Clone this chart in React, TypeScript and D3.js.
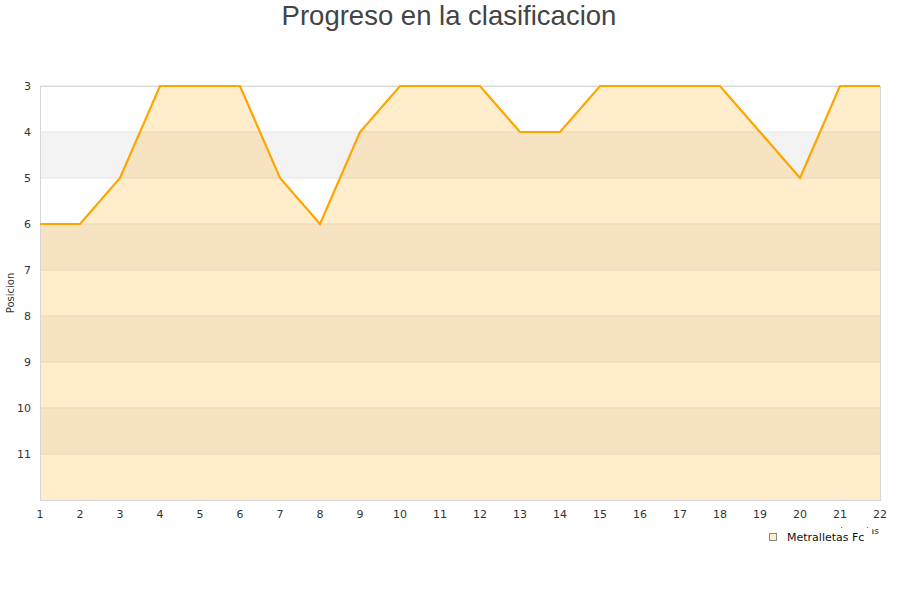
import React, { useRef, useEffect } from "react";
import * as d3 from "d3";

const title = "Progreso en la clasificacion";
const seriesName = "Metralletas Fc";
const xTitle = "Jornadas";
const yTitle = "Posicion";
const jornadas = [1, 2, 3, 4, 5, 6, 7, 8, 9, 10, 11, 12, 13, 14, 15, 16, 17, 18, 19, 20, 21, 22];
const posiciones = [6, 6, 5, 3, 3, 3, 5, 6, 4, 3, 3, 3, 4, 4, 3, 3, 3, 3, 4, 5, 3, 3];
const yTicks = [3, 4, 5, 6, 7, 8, 9, 10, 11];
const yDomain = [3, 12];

const App = () => {
  const svgRef = useRef<SVGSVGElement>(null);

  useEffect(() => {
    const width = 900;
    const height = 600;
    const margin = { top: 86, right: 20, bottom: 100, left: 40 };
    const font = "'DejaVu Sans', sans-serif";

    const svg = d3.select(svgRef.current).attr("width", width).attr("height", height);
    svg.selectAll("*").remove();

    const x = d3
      .scaleLinear()
      .domain([jornadas[0], jornadas[jornadas.length - 1]])
      .range([margin.left, width - margin.right]);
    const y = d3
      .scaleLinear()
      .domain(yDomain)
      .range([margin.top, height - margin.bottom]);

    // alternating bands
    svg
      .append("g")
      .selectAll("rect")
      .data(yTicks)
      .join("rect")
      .attr("x", x.range()[0])
      .attr("width", x.range()[1] - x.range()[0])
      .attr("y", (d) => y(d))
      .attr("height", (d) => y(d + 1) - y(d))
      .attr("fill", (d) => (d % 2 === 0 ? "#f3f3f3" : "#ffffff"));

    // grid lines
    svg
      .append("g")
      .selectAll("line")
      .data(yTicks)
      .join("line")
      .attr("x1", x.range()[0])
      .attr("x2", x.range()[1])
      .attr("y1", (d) => y(d))
      .attr("y2", (d) => y(d))
      .attr("stroke", "#e4e4e4")
      .attr("stroke-width", 1);

    const pts = jornadas.map((j, i) => [j, posiciones[i]] as [number, number]);

    const area = d3
      .area<[number, number]>()
      .x((d) => x(d[0]))
      .y0(y(yDomain[1]))
      .y1((d) => y(d[1]));
    svg.append("path").datum(pts).attr("d", area).attr("fill", "#ffa500").attr("fill-opacity", 0.2);

    // frame
    svg
      .append("rect")
      .attr("x", x.range()[0] + 0.5)
      .attr("y", y.range()[0] + 0.5)
      .attr("width", x.range()[1] - x.range()[0])
      .attr("height", y.range()[1] - y.range()[0])
      .attr("fill", "none")
      .attr("stroke", "#d6d6d6");

    const line = d3
      .line<[number, number]>()
      .x((d) => x(d[0]))
      .y((d) => y(d[1]));
    svg
      .append("path")
      .datum(pts)
      .attr("d", line)
      .attr("fill", "none")
      .attr("stroke", "#ffa500")
      .attr("stroke-width", 2.2);

    // y tick labels
    svg
      .append("g")
      .selectAll("text")
      .data(yTicks)
      .join("text")
      .attr("x", 31)
      .attr("y", (d) => y(d) + 4)
      .attr("text-anchor", "end")
      .style("font-family", font)
      .style("font-size", "11px")
      .attr("fill", "#333")
      .text((d) => d);

    // x tick labels
    svg
      .append("g")
      .selectAll("text")
      .data(jornadas)
      .join("text")
      .attr("x", (d) => x(d))
      .attr("y", 518)
      .attr("text-anchor", "middle")
      .style("font-family", font)
      .style("font-size", "11px")
      .attr("fill", "#333")
      .text((d) => d);

    // axis titles
    svg
      .append("text")
      .attr("transform", `translate(14,293) rotate(-90)`)
      .attr("text-anchor", "middle")
      .style("font-family", font)
      .style("font-size", "10px")
      .attr("fill", "#333")
      .text(yTitle);

    // x title sits mostly behind the legend box, as in the source chart
    svg
      .append("text")
      .attr("x", 879)
      .attr("y", 534)
      .attr("text-anchor", "end")
      .style("font-family", font)
      .style("font-size", "9px")
      .attr("fill", "#333")
      .text(xTitle);

    // legend
    const legend = svg.append("g");
    legend.append("rect").attr("x", 760).attr("y", 528).attr("width", 112).attr("height", 22).attr("fill", "#fff");
    legend
      .append("rect")
      .attr("x", 769.5)
      .attr("y", 533.5)
      .attr("width", 7)
      .attr("height", 7)
      .attr("fill", "#ffecc9")
      .attr("stroke", "#888");
    legend
      .append("text")
      .attr("x", 787)
      .attr("y", 541)
      .style("font-family", font)
      .style("font-size", "11px")
      .attr("fill", "#111")
      .text(seriesName);

    // title
    svg
      .append("text")
      .attr("x", 449)
      .attr("y", 25)
      .attr("text-anchor", "middle")
      .style("font-family", "'Liberation Sans', Arial, sans-serif")
      .style("font-size", "27.5px")
      .attr("fill", "#444")
      .text(title);
  }, []);

  return (
    <svg
      ref={svgRef}
      style={{ position: "absolute", left: 0, top: 0, display: "block", background: "#fff" }}
    ></svg>
  );
};

export default App;
